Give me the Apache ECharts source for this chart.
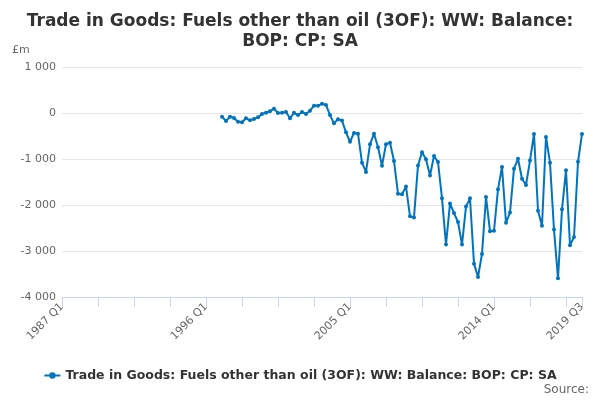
<!DOCTYPE html>
<html>
<head>
<meta charset="utf-8" />
<title>Trade in Goods: Fuels other than oil</title>
<script src="https://cdn.jsdelivr.net/npm/echarts@6/dist/echarts.min.js"></script>
<style>
  html, body { margin: 0; padding: 0; background: #fff; }
  #chart { width: 600px; height: 400px; }
</style>
</head>
<body>
<div id="chart"></div>
<script>
// quarters 1987 Q1 .. 2019 Q3
var firstYear = 1987;
var quarterCount = 131;
// series starts at 1997 Q1 (index 40)
var startIndex = 40;
var balance = [
  -80, -175, -80, -110, -190, -200, -115, -160, -130, -95,
  -20, 5, 40, 95, 0, 5, 20, -115, 5, -45,
  20, -20, 50, 160, 160, 200, 175, -45, -225, -135,
  -165, -420, -625, -435, -450, -1080, -1280, -680, -450, -745,
  -1145, -680, -645, -1045, -1755, -1765, -1600, -2245, -2270, -1140,
  -855, -1005, -1360, -935, -1065, -1855, -2860, -1965, -2175, -2370,
  -2860, -2035, -1855, -3275, -3565, -3065, -1825, -2570, -2560, -1660,
  -1175, -2385, -2165, -1210, -995, -1430, -1565, -1035, -455, -2125,
  -2450, -520, -1080, -2535, -3595, -2095, -1245, -2875, -2695, -1060,
  -455
];
var seriesName = "Trade in Goods: Fuels other than oil (3OF): WW: Balance: BOP: CP: SA";

var categories = [];
for (var i = 0; i < quarterCount; i++) {
    categories.push((firstYear + Math.floor(i / 4)) + " Q" + (i % 4 + 1));
}
var values = [];
for (var i = 0; i < quarterCount; i++) {
    var k = i - startIndex;
    values.push(k >= 0 && k < balance.length ? balance[k] : null);
}

function fmt(v) {
    var s = String(Math.abs(v)).replace(/\B(?=(\d{3})+(?!\d))/g, " ");
    return (v < 0 ? "-" : "") + s;
}

var font = "DejaVu Sans";
var chart = echarts.init(document.getElementById("chart"));
chart.setOption({
    animation: false,
    textStyle: { fontFamily: font },
    title: {
        text: "Trade in Goods: Fuels other than oil (3OF): WW: Balance:\nBOP: CP: SA",
        left: "center",
        top: 7,
        textStyle: { fontSize: 17, fontWeight: "bold", color: "#333", lineHeight: 20, fontFamily: font }
    },
    grid: { left: 62, right: 18, top: 67, bottom: 103 },
    graphic: [
        { type: "text", left: 12, top: 45, style: { text: "£m", fontSize: 11, fill: "#666", fontFamily: font } },
        { type: "text", right: 11, top: 384, style: { text: "Source:", fontSize: 12, fill: "#666", fontFamily: font } }
    ],
    legend: {
        top: 364,
        left: "center",
        itemWidth: 16,
        itemHeight: 8,
        itemGap: 0,
        textStyle: { fontSize: 12.5, fontWeight: "bold", color: "#333", fontFamily: font },
        data: [seriesName]
    },
    xAxis: {
        type: "category",
        data: categories,
        boundaryGap: false,
        axisLine: { onZero: false, lineStyle: { color: "#ccd6eb" } },
        axisTick: {
            length: 10,
            lineStyle: { color: "#ccd6eb" },
            interval: function (idx) { return idx % 9 === 0 || idx === quarterCount - 1; }
        },
        axisLabel: {
            rotate: 45,
            color: "#666",
            fontSize: 11,
            margin: 8,
            interval: function (idx) { return idx % 36 === 0 || idx === quarterCount - 1; }
        },
        splitLine: { show: false }
    },
    yAxis: {
        type: "value",
        min: -4000,
        max: 1000,
        interval: 1000,
        axisLine: { show: false },
        axisTick: { show: false },
        axisLabel: { color: "#666", fontSize: 11, margin: 6, formatter: fmt },
        splitLine: { lineStyle: { color: "#e6e6e6" } }
    },
    series: [{
        name: seriesName,
        type: "line",
        data: values,
        symbol: "circle",
        symbolSize: 4,
        showSymbol: true,
        showAllSymbol: true,
        itemStyle: { color: "#0075bd" },
        lineStyle: { width: 2, color: "#0075bd" }
    }]
});
</script>
</body>
</html>
